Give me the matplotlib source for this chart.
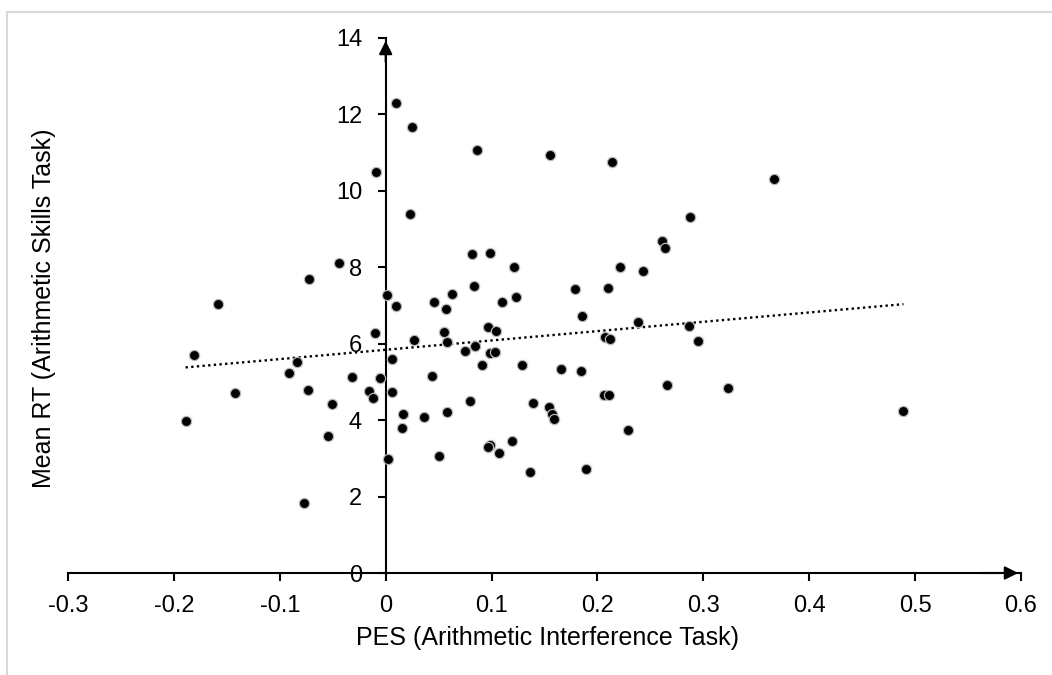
import numpy as np
import matplotlib
matplotlib.use("Agg")
import matplotlib.pyplot as plt
from matplotlib.lines import Line2D

plt.rcParams['font.family'] = ['Liberation Sans', 'DejaVu Sans']

# PES (arithmetic interference task) vs mean RT (arithmetic skills task)
pes = [0.010, 0.025, 0.086, 0.155, 0.214, -0.009, 0.367, 0.023, 0.287, 0.261,
       0.264, 0.082, 0.099, -0.044, 0.121, 0.221, 0.243, -0.072, 0.083, 0.179,
       0.210, 0.063, 0.001, -0.158, 0.046, 0.110, 0.123, 0.010, 0.057, 0.185,
       0.238, 0.286, 0.097, 0.104, 0.055, -0.010, 0.027, 0.058, 0.295, 0.207,
       0.212, 0.075, 0.084, 0.099, 0.103, -0.181, 0.006, -0.084, 0.091, 0.129,
       0.166, 0.184, -0.091, 0.044, -0.032, -0.005, 0.266, 0.323, -0.073, -0.016,
       0.006, -0.142, 0.206, 0.211, -0.012, 0.080, 0.139, -0.051, 0.154, 0.489,
       0.058, 0.016, 0.157, 0.036, 0.159, -0.189, 0.015, 0.229, -0.054, 0.119,
       0.099, 0.097, 0.107, 0.050, 0.002, 0.189, 0.136, -0.077]
mean_rt = [12.31, 11.66, 11.07, 10.93, 10.75, 10.49, 10.32, 9.39, 9.31, 8.68,
           8.51, 8.34, 8.38, 8.12, 8.01, 8.01, 7.91, 7.70, 7.52, 7.43,
           7.46, 7.30, 7.27, 7.05, 7.09, 7.10, 7.22, 6.99, 6.91, 6.72,
           6.58, 6.47, 6.45, 6.34, 6.31, 6.27, 6.09, 6.05, 6.06, 6.17,
           6.13, 5.81, 5.95, 5.75, 5.79, 5.70, 5.59, 5.51, 5.45, 5.43,
           5.34, 5.29, 5.24, 5.15, 5.12, 5.09, 4.93, 4.84, 4.79, 4.76,
           4.74, 4.71, 4.65, 4.65, 4.59, 4.49, 4.46, 4.41, 4.35, 4.23,
           4.21, 4.15, 4.15, 4.09, 4.04, 3.97, 3.80, 3.74, 3.58, 3.46,
           3.35, 3.29, 3.13, 3.05, 2.98, 2.72, 2.64, 1.84]

x_ticks = [-0.3, -0.2, -0.1, 0, 0.1, 0.2, 0.3, 0.4, 0.5, 0.6]
x_tick_labels = ['-0.3', '-0.2', '-0.1', '0', '0.1', '0.2', '0.3', '0.4', '0.5', '0.6']
y_ticks = [0, 2, 4, 6, 8, 10, 12, 14]

W, H = 1052, 675
fig = plt.figure(figsize=(W / 100, H / 100), dpi=100)
ax = fig.add_axes([68 / W, 1 - 573 / H, (1021 - 68) / W, (573 - 38) / H])

# light grey frame round the chart (only top and left visible)
fig.add_artist(Line2D([7 / W, 7 / W], [0, 1 - 12 / H], color='#d9d9d9', lw=1.5,
                      transform=fig.transFigure))
fig.add_artist(Line2D([7 / W, 1], [1 - 12 / H, 1 - 12 / H], color='#d9d9d9', lw=1.5,
                      transform=fig.transFigure))

x = np.array(pes)
y = np.array(mean_rt)
ax.scatter(x, y, s=54, color='black', edgecolors='#b8b8b8', linewidths=0.9, zorder=3)

# linear trend line
slope, icpt = np.polyfit(x, y, 1)
xs = np.array([x.min(), x.max()])
ax.plot(xs, slope * xs + icpt, color='black', lw=1.7, linestyle=(0, (1, 1.4)), zorder=2)

ax.set_xlim(-0.3, 0.6)
ax.set_ylim(0, 14)
ax.spines['left'].set_position(('data', 0))
ax.spines['bottom'].set_position(('data', 0))
ax.spines['right'].set_visible(False)
ax.spines['top'].set_visible(False)
ax.spines['left'].set_linewidth(1.5)
ax.spines['bottom'].set_linewidth(1.5)

ax.set_xticks(x_ticks)
ax.set_xticklabels(x_tick_labels)
ax.set_yticks(y_ticks)
ax.tick_params(axis='x', direction='out', length=5.5, width=1.5, pad=10.5, labelsize=17)
ax.tick_params(axis='y', direction='out', length=6, width=1.5, pad=11, labelsize=17)

# arrow heads on the axes
ax.annotate('', xy=(0, 14), xytext=(0, 13.3),
            arrowprops=dict(arrowstyle='-|>', color='black', lw=1.5, mutation_scale=20))
ax.annotate('', xy=(0.6, 0), xytext=(0.56, 0),
            arrowprops=dict(arrowstyle='-|>', color='black', lw=1.5, mutation_scale=20))

fig.text(547 / W, 1 - 638 / H, 'PES (Arithmetic Interference Task)', ha='center', va='center',
         fontsize=18)
fig.text(44 / W, 1 - 308 / H, 'Mean RT (Arithmetic Skills Task)', ha='center', va='center',
         rotation=90, fontsize=18)

fig.savefig('out.png', dpi=100)
